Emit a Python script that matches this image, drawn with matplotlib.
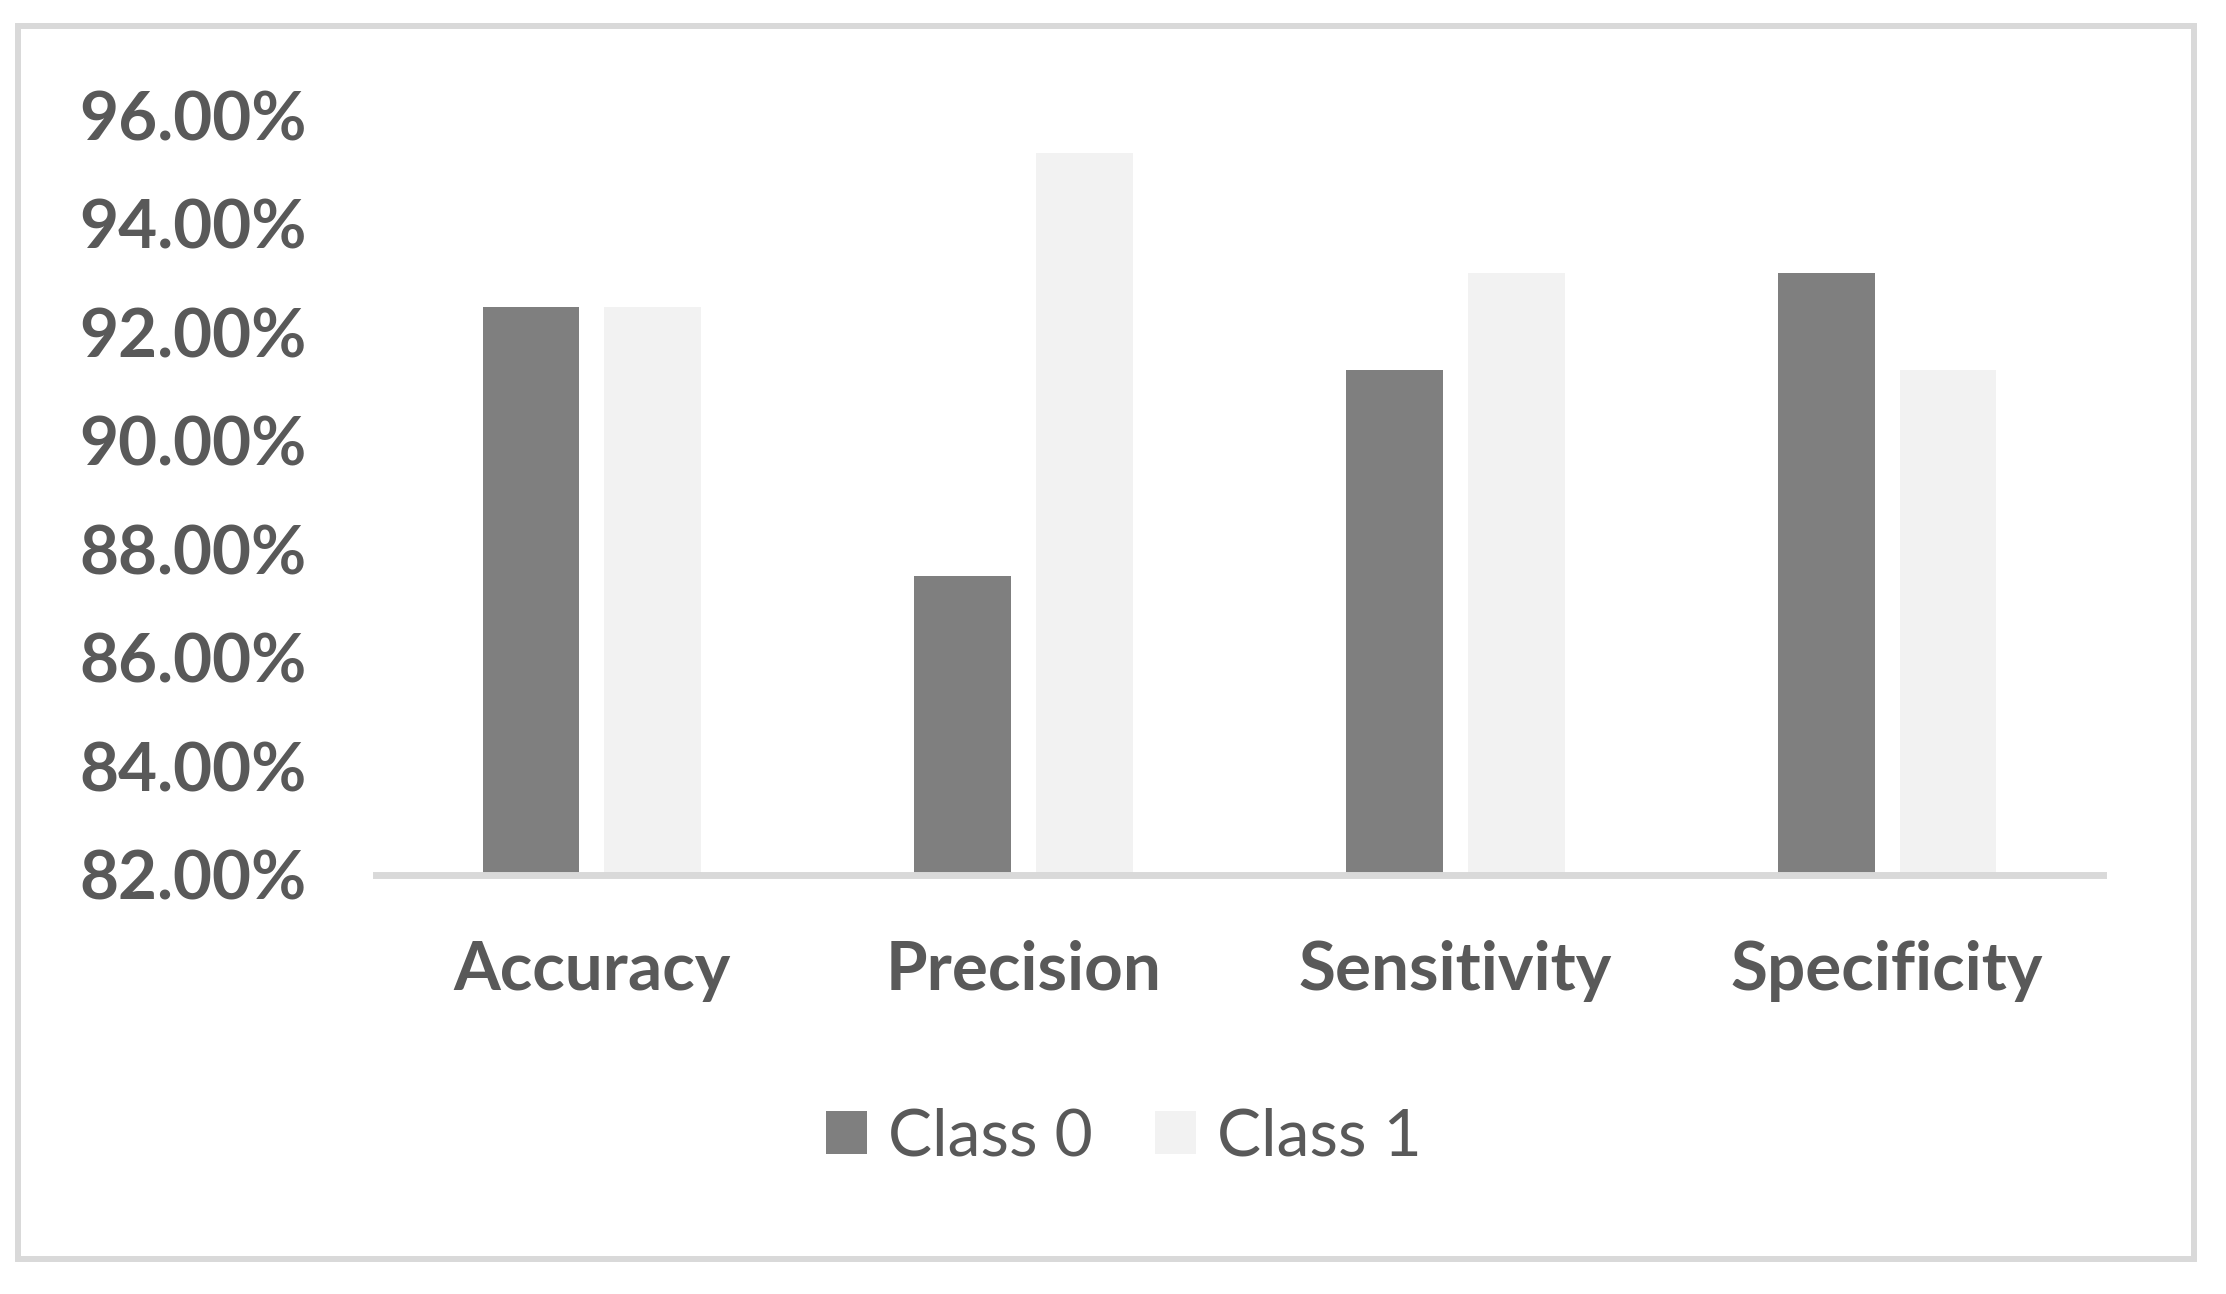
import matplotlib.pyplot as plt
import numpy as np
from matplotlib.patches import Rectangle
from matplotlib.ticker import FuncFormatter

# values (percent)
metrics = ['Accuracy', 'Precision', 'Sensitivity', 'Specificity']
class0 = [92.47, 87.5, 91.3, 93.1]
class1 = [92.47, 95.3, 93.1, 91.3]
yticks = [82, 84, 86, 88, 90, 92, 94, 96]

TXT = '#595959'
plt.rcParams['font.family'] = ['Lato', 'DejaVu Sans']

W, H = 2226, 1294
fig = plt.figure(figsize=(W/100, H/100), dpi=100)
ax = fig.add_axes([376/W, 1-874.5/H, (2103-376)/W, (874.5-115.5)/H])

x = np.arange(len(metrics))
bw = 0.224
ax.bar(x - 0.141, np.array(class0) - 82, bw, bottom=82, color='#7f7f7f', label='Class 0', zorder=2)
ax.bar(x + 0.141, np.array(class1) - 82, bw, bottom=82, color='#f2f2f2', label='Class 1', zorder=2)

ax.set_xlim(-0.5, 3.5)
ax.set_ylim(82, 96)
ax.set_yticks(yticks)
ax.yaxis.set_major_formatter(FuncFormatter(lambda v, p: '%.2f%%' % v))
ax.set_xticks(x)
ax.set_xticklabels(metrics)

for s in ['top', 'right', 'left']:
    ax.spines[s].set_visible(False)
ax.spines['bottom'].set_color('#d9d9d9')
ax.spines['bottom'].set_linewidth(5)
ax.spines['bottom'].set_zorder(3)

ax.tick_params(axis='both', length=0, colors=TXT, labelsize=48.5)
ax.tick_params(axis='y', pad=50)
ax.tick_params(axis='x', pad=47)
for t in ax.get_xticklabels() + ax.get_yticklabels():
    t.set_fontweight('bold')

leg = fig.legend(loc='center', bbox_to_anchor=(1124/W, 1-1137/H), ncol=2, frameon=False,
                 fontsize=47.5, handlelength=0.62, handleheight=0.62,
                 handletextpad=0.32, columnspacing=0.95)
for t in leg.get_texts():
    t.set_color(TXT)

# chart-area border
fig.patches.append(Rectangle((17.5/W, 1-1258.5/H), (2193.5-17.5)/W, (1258.5-26)/H,
                             transform=fig.transFigure, fill=False,
                             edgecolor='#d9d9d9', linewidth=4.3))

plt.savefig('out.png', dpi=100)
